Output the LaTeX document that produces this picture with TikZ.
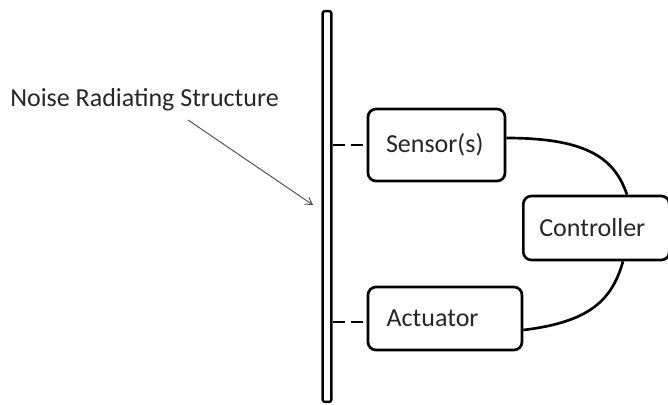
\documentclass[tikz,border=0pt]{standalone}
\usepackage{fontspec}
\setmainfont{Carlito}
\usetikzlibrary{arrows.meta}
\begin{document}
\begin{tikzpicture}[x=0.75pt,y=-0.75pt,
  box/.style={draw=black,line width=2pt,rounded corners=6pt,inner ysep=0pt,align=left,font=\fontsize{19.5}{22}\selectfont,text=black!85},
  link/.style={line width=2pt},
  dashlink/.style={line width=2pt,dash pattern=on 9.5pt off 4pt}]
\useasboundingbox (0,0) rectangle (668,404);
\node[draw=black,line width=1.8pt,rounded corners=1.5pt,minimum width=6.5pt,minimum height=293pt,inner sep=0pt] (plate) at (327,206.5) {};
\node[box,inner xsep=13.5pt,text width=75.75pt,minimum height=54pt] (sensor) at (436.5,145) {Sensor(s)};
\node[box,inner xsep=14pt,text width=87.5pt,minimum height=47.25pt] (act) at (445,318.5) {Actuator};
\node[box,inner xsep=12pt,text width=85.5pt,minimum height=48pt,anchor=west] (ctrl) at (522,228) {Controller};
\node[font=\fontsize{19.5}{22}\selectfont,text=black!85,anchor=west,inner sep=0pt] (label) at (10,100) {Noise Radiating Structure};
\coordinate (tip) at (313,205);
\coordinate (tail) at (188,120);
\draw[line width=0.7pt,color=black!70,-{Straight Barb[length=5pt,width=6pt]}] (tail) -- (tip);
\draw[dashlink] (plate.east |- sensor.west) -- (sensor.west);
\draw[dashlink] (plate.east |- 0,322) -- (act.west |- 0,322);
\draw[link] (sensor.east |- 0,138) .. controls (590,138) and (615,160) .. (ctrl.north -| 627,0);
\draw[link] (act.east |- 0,330) .. controls (590,322) and (612,300) .. (ctrl.south -| 623,0);
\end{tikzpicture}
\end{document}
